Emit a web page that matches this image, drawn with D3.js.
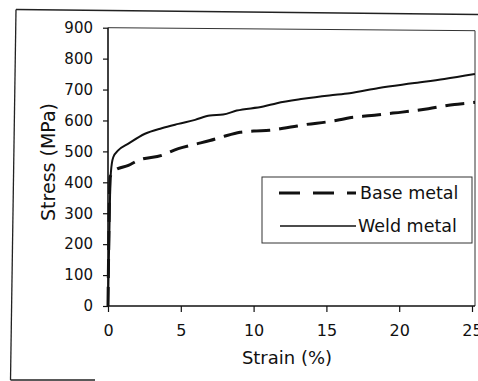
<!DOCTYPE html>
<html>
<head>
<meta charset="utf-8">
<script src="https://cdn.jsdelivr.net/npm/d3@7"></script>
<style>
  html, body { margin: 0; padding: 0; background: #fff; }
  svg { display: block; }
  text { font-family: "DejaVu Sans", sans-serif; fill: #111; }
</style>
</head>
<body>
<svg id="chart" width="478" height="381"></svg>
<script>
// ---- data ----
const xTicks = [0, 5, 10, 15, 20, 25];
const yTicks = [0, 100, 200, 300, 400, 500, 600, 700, 800, 900];
const seriesNames = ["Base metal", "Weld metal"];

const baseStrain = [0, 0.1, 0.14, 0.48, 1.4, 2.08, 3.69, 4.83, 5.98, 7.0, 7.92, 9.07, 10.0, 11.1, 11.8, 13.0, 13.6, 15.0, 15.9, 16.6, 17.0, 18.1, 19.0, 20.2, 22.0, 23.8, 24.7, 25.3];
const baseStress = [0, 350, 417, 439, 455, 471, 487, 509, 523, 535, 548, 562, 566, 568, 573, 582, 587, 595, 602, 609, 611, 616, 621, 627, 638, 652, 656, 659];

const weldStrain = [0, 0.15, 0.2, 0.36, 0.7, 1.4, 2.54, 3.69, 4.83, 5.98, 7.0, 7.9, 8.84, 10.67, 11.6, 13.4, 15.2, 16.6, 18.6, 20.9, 23.1, 25.2];
const weldStress = [0, 380, 433, 481, 503, 525, 557, 575, 589, 602, 616, 619, 632, 645, 656, 670, 681, 688, 705, 720, 734, 750];

// ---- layout ----
const svg = d3.select("#chart");
const x = d3.scaleLinear().domain([0, 25]).range([108, 472]);
const y = d3.scaleLinear().domain([0, 900]).range([306, 27.7]);
const plotRight = 475;

// outer (scanned) frame
const frame = svg.append("g").attr("stroke", "#222").attr("stroke-width", 1.3).attr("fill", "none");
frame.append("line").attr("x1", 16).attr("y1", 9.5).attr("x2", 10.5).attr("y2", 380);
frame.append("line").attr("x1", 16).attr("y1", 9.5).attr("x2", 478).attr("y2", 14.5);
frame.append("line").attr("x1", 10.5).attr("y1", 380).attr("x2", 95).attr("y2", 380);

// plot border top / right
const border = svg.append("g").attr("stroke", "#333").attr("stroke-width", 1).attr("fill", "none");
border.append("line").attr("x1", 108).attr("y1", y(900)).attr("x2", plotRight).attr("y2", y(900) + 3);
border.append("line").attr("x1", plotRight).attr("y1", y(900) + 3).attr("x2", plotRight).attr("y2", 306);

// axes
const xAxis = svg.append("g").attr("transform", "translate(0,306)")
  .call(d3.axisBottom(x).tickValues(xTicks).tickSize(6).tickPadding(13).tickFormat(d3.format("d")));
xAxis.select(".domain").attr("d", `M${x(0)},0H${plotRight}`).attr("stroke", "#111").attr("stroke-width", 1.6);
xAxis.selectAll(".tick line").attr("stroke", "#111").attr("stroke-width", 1.2);
xAxis.selectAll(".tick text").attr("font-size", 16).attr("fill", "#111").style("font-family", "DejaVu Sans");

const yAxis = svg.append("g").attr("transform", "translate(108,0)")
  .call(d3.axisLeft(y).tickValues(yTicks).tickSize(5).tickPadding(10).tickFormat(d3.format("d")));
yAxis.select(".domain").attr("d", `M0,${y(0)}V${y(900)}`).attr("stroke", "#111").attr("stroke-width", 1.6);
yAxis.selectAll(".tick line").attr("stroke", "#111").attr("stroke-width", 1.2);
yAxis.selectAll(".tick text").attr("font-size", 15).attr("fill", "#111").style("font-family", "DejaVu Sans");

// axis titles
svg.append("text").attr("x", 287).attr("y", 364).attr("text-anchor", "middle")
  .attr("font-size", 18).text("Strain (%)");
svg.append("text").attr("transform", "translate(55,162) rotate(-90)").attr("text-anchor", "middle")
  .attr("font-size", 19).text("Stress (MPa)");

// clip
svg.append("clipPath").attr("id", "clip").append("rect")
  .attr("x", 100).attr("y", 20).attr("width", plotRight - 100).attr("height", 290);

const line = d3.line().x(d => x(d[0])).y(d => y(d[1])).curve(d3.curveMonotoneX);
const baseData = baseStrain.map((s, i) => [s, baseStress[i]]);
const weldData = weldStrain.map((s, i) => [s, weldStress[i]]);

const lines = svg.append("g").attr("clip-path", "url(#clip)");
lines.append("path").datum(weldData).attr("d", line)
  .attr("fill", "none").attr("stroke", "#111").attr("stroke-width", 2);
lines.append("path").datum(baseData).attr("d", line)
  .attr("fill", "none").attr("stroke", "#111").attr("stroke-width", 3)
  .attr("stroke-dasharray", "19,9").attr("stroke-dashoffset", 0);

// legend
const lg = svg.append("g");
lg.append("rect").attr("x", 262).attr("y", 177).attr("width", 210).attr("height", 66)
  .attr("fill", "#fff").attr("stroke", "#333").attr("stroke-width", 1);
lg.append("line").attr("x1", 279).attr("y1", 193).attr("x2", 356).attr("y2", 193)
  .attr("stroke", "#111").attr("stroke-width", 3).attr("stroke-dasharray", "21,13");
lg.append("text").attr("x", 360).attr("y", 199).attr("font-size", 17.5).text(seriesNames[0]);
lg.append("line").attr("x1", 280).attr("y1", 226).attr("x2", 356).attr("y2", 226)
  .attr("stroke", "#111").attr("stroke-width", 1.6);
lg.append("text").attr("x", 358).attr("y", 232).attr("font-size", 17.5).text(seriesNames[1]);
</script>
</body>
</html>
